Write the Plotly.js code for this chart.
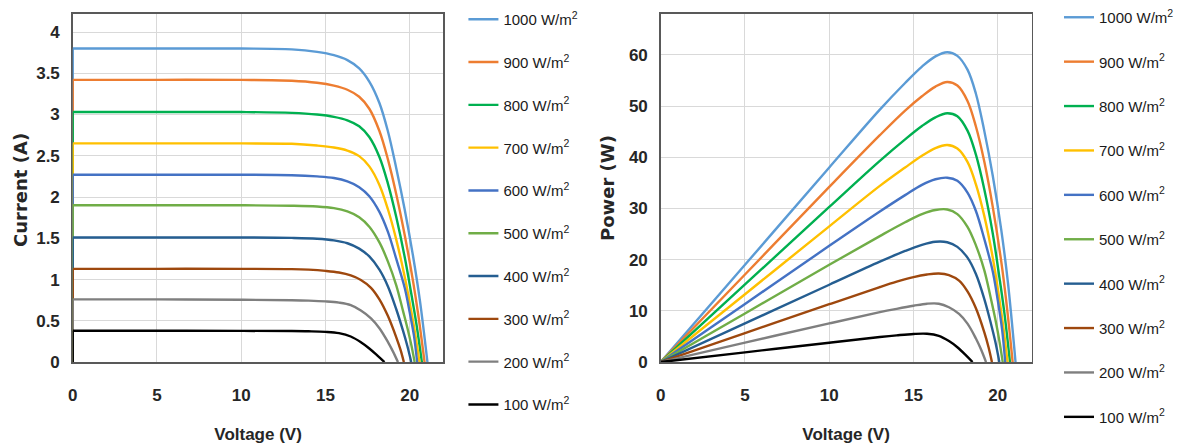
<!DOCTYPE html>
<html>
<head>
<meta charset="utf-8">
<script src="https://cdn.plot.ly/plotly-3.0.1.min.js"></script>
<style>html,body{margin:0;padding:0;background:#fff;}#chart{width:1179px;height:447px;}</style>
</head>
<body>
<div id="chart"></div>
<script>
// ---- Data ----
const irradiance = [1000, 900, 800, 700, 600, 500, 400, 300, 200, 100];
const colors = ['#5B9BD5','#ED7D31','#00B050','#FFC000','#4472C4','#70AD47','#255E91','#9E480E','#7F7F7F','#000000'];

const v1000 = [0,5,10,13,14.5,15.5,16.3,17.0,17.6,18.2,18.7,19.2,19.7,20.2,20.6,21.05];
const i1000 = [3.80,3.80,3.80,3.79,3.76,3.72,3.66,3.56,3.40,3.14,2.80,2.35,1.85,1.28,0.75,0];
const p1000 = [0,19.0,38.0,49.3,54.5,57.7,59.7,60.5,59.8,57.1,52.4,45.1,36.4,25.9,15.5,0];

const v900 = [0,5,10,13,14.5,15.5,16.3,17.0,17.6,18.2,18.7,19.2,19.7,20.2,20.5,20.88];
const i900 = [3.42,3.42,3.42,3.41,3.385,3.35,3.30,3.215,3.07,2.80,2.46,2.035,1.54,0.975,0.58,0];
const p900 = [0,17.1,34.2,44.3,49.1,51.9,53.8,54.7,54.0,51.0,46.0,39.1,30.3,19.7,11.9,0];

const v800 = [0,5,10,13,14.5,15.5,16.3,17.0,17.6,18.2,18.7,19.2,19.7,20.1,20.4,20.72];
const i800 = [3.03,3.03,3.03,3.02,3.00,2.972,2.93,2.857,2.727,2.485,2.166,1.757,1.273,0.818,0.455,0];
const p800 = [0,15.15,30.3,39.3,43.5,46.1,47.8,48.6,48.0,45.2,40.5,33.7,25.1,16.4,9.3,0];

const v700 = [0,5,10,13,14.5,15.5,16.3,17.0,17.6,18.2,18.7,19.2,19.7,20.0,20.3,20.58];
const i700 = [2.65,2.65,2.65,2.645,2.624,2.60,2.563,2.496,2.372,2.147,1.855,1.484,1.034,0.716,0.371,0];
const p700 = [0,13.25,26.5,34.4,38.0,40.3,41.8,42.4,41.7,39.1,34.7,28.5,20.4,14.3,7.5,0];

const v600 = [0,5,10,13,14.5,15.5,16.3,17.0,17.6,18.2,18.7,19.2,19.7,20.0,20.25,20.44];
const i600 = [2.27,2.27,2.27,2.265,2.25,2.23,2.19,2.12,2.01,1.82,1.58,1.25,0.90,0.60,0.32,0];
const p600 = [0,11.35,22.7,29.4,32.6,34.6,35.7,36.0,35.4,33.1,29.5,24.0,17.7,12.0,6.5,0];

const v500 = [0,5,10,13,14.5,15.5,16.3,17.0,17.6,18.2,18.7,19.2,19.6,19.9,20.1,20.29];
const i500 = [1.90,1.90,1.90,1.895,1.885,1.865,1.825,1.755,1.64,1.45,1.22,0.93,0.62,0.38,0.20,0];
const p500 = [0,9.5,19.0,24.6,27.3,28.9,29.7,29.8,28.9,26.4,22.8,17.9,12.2,7.6,4.0,0];

const v400 = [0,5,10,13,14.5,15.5,16.3,17.0,17.6,18.2,18.7,19.2,19.6,19.85,20.09];
const i400 = [1.51,1.51,1.51,1.505,1.495,1.475,1.44,1.375,1.28,1.12,0.92,0.64,0.38,0.20,0];
const p400 = [0,7.55,15.1,19.6,21.7,22.9,23.5,23.4,22.5,20.4,17.2,12.3,7.4,4.0,0];

const v300 = [0,5,10,13,14,15,15.8,16.5,17.1,17.7,18.2,18.7,19.2,19.45,19.65];
const i300 = [1.13,1.13,1.13,1.127,1.12,1.105,1.085,1.05,0.995,0.90,0.76,0.56,0.30,0.15,0];
const p300 = [0,5.65,11.3,14.65,15.7,16.6,17.1,17.3,17.0,15.9,13.8,10.5,5.8,2.9,0];

const v200 = [0,5,10,13,14,15,15.8,16.5,17.1,17.7,18.2,18.7,19.0,19.3];
const i200 = [0.76,0.76,0.755,0.75,0.745,0.735,0.72,0.69,0.625,0.53,0.41,0.245,0.13,0];
const p200 = [0,3.8,7.55,9.75,10.4,11.0,11.4,11.4,10.7,9.4,7.5,4.6,2.5,0];

const v100 = [0,5,10,13,14,15,15.8,16.5,17.1,17.6,18.1,18.5];
const i100 = [0.38,0.38,0.378,0.376,0.373,0.366,0.35,0.31,0.24,0.165,0.075,0];
const p100 = [0,1.9,3.78,4.89,5.22,5.49,5.53,5.12,4.1,2.9,1.36,0];

const xTickVals = [0,5,10,15,20];
const xTitle = 'Voltage (V)';
const yTitleLeft = 'Current (A)';
const yTitleRight = 'Power (W)';

// ---- Build traces ----
const volts = [v1000,v900,v800,v700,v600,v500,v400,v300,v200,v100];
const amps  = [i1000,i900,i800,i700,i600,i500,i400,i300,i200,i100];
const watts = [p1000,p900,p800,p700,p600,p500,p400,p300,p200,p100];

const FONT = 'Liberation Sans, Arial, sans-serif';
const LW = 2.4;
const traces = [];

irradiance.forEach((g, k) => {
  const name = g + ' W/m<sup>2</sup>';
  // vertical rise at V = 0 (from 0 A up to short-circuit current)
  traces.push({x:[volts[k][0], volts[k][0]], y:[0, amps[k][0]], xaxis:'x', yaxis:'y',
    mode:'lines', line:{color:colors[k], width:LW}, showlegend:false, hoverinfo:'skip'});
  traces.push({x:volts[k], y:amps[k], xaxis:'x', yaxis:'y', name:name,
    mode:'lines', line:{color:colors[k], width:LW, shape:'spline', smoothing:1},
    legend:'legend', legendgroup:'iv'+k});
});
irradiance.forEach((g, k) => {
  const name = g + ' W/m<sup>2</sup>';
  traces.push({x:volts[k], y:watts[k], xaxis:'x2', yaxis:'y2', name:name,
    mode:'lines', line:{color:colors[k], width:LW, shape:'spline', smoothing:1},
    legend:'legend2', legendgroup:'pv'+k});
});

const axisCommon = {
  showgrid:true, gridcolor:'#d9d9d9', gridwidth:1,
  showline:true, mirror:true, linecolor:'#595959', linewidth:1.5,
  zeroline:false, ticks:'', tickfont:{family:FONT, size:17, color:'#262626', weight:'bold'},
};
const yDomain = [0.19, 0.969];
const xTitleFont = {family:FONT, size:17, color:'#262626', weight:'bold'};
const yTitleFont = {family:'DejaVu Sans, sans-serif', size:18, color:'#262626', weight:'bold'};

const layout = {
  width:1179, height:447,
  margin:{l:0, r:0, t:0, b:0},
  paper_bgcolor:'#ffffff', plot_bgcolor:'#ffffff',
  showlegend:true,
  xaxis: Object.assign({}, axisCommon, {domain:[0.0619,0.3774], range:[0,22], tickvals:xTickVals,
    anchor:'y', ticklabelstandoff:17,
    title:{text:xTitle, standoff:24, font:xTitleFont}}),
  yaxis: Object.assign({}, axisCommon, {domain:yDomain, range:[0,4.22], dtick:0.5, tick0:0,
    anchor:'x', ticklabelstandoff:8, layer:'below traces'}),
  xaxis2: Object.assign({}, axisCommon, {domain:[0.5623,0.8779], range:[0,22], tickvals:xTickVals,
    anchor:'y2', ticklabelstandoff:17,
    title:{text:xTitle, standoff:24, font:xTitleFont}}),
  yaxis2: Object.assign({}, axisCommon, {domain:yDomain, range:[0,68], dtick:10, tick0:0,
    anchor:'x2', ticklabelstandoff:8}),
  annotations: [
    {text:yTitleLeft, xref:'paper', yref:'paper', x:20/1179, y:(447-190)/447, xanchor:'center', yanchor:'middle',
     textangle:-90, showarrow:false, font:yTitleFont},
    {text:yTitleRight, xref:'paper', yref:'paper', x:609/1179, y:(447-188)/447, xanchor:'center', yanchor:'middle',
     textangle:-90, showarrow:false, font:yTitleFont}
  ],
  legend: {x:465/1179, xanchor:'left', y:1-3/447, yanchor:'top', traceorder:'grouped', tracegroupgap:20.3,
    font:{family:FONT, size:15, color:'#1a1a1a'}, bgcolor:'rgba(0,0,0,0)', itemwidth:30},
  legend2: {x:1063/1179, xanchor:'left', y:1-1/447, yanchor:'top', traceorder:'grouped', tracegroupgap:21.9,
    font:{family:FONT, size:15, color:'#1a1a1a'}, bgcolor:'rgba(0,0,0,0)', itemwidth:30}
};

Plotly.newPlot('chart', traces, layout, {displayModeBar:false, staticPlot:true});
</script>
</body>
</html>
